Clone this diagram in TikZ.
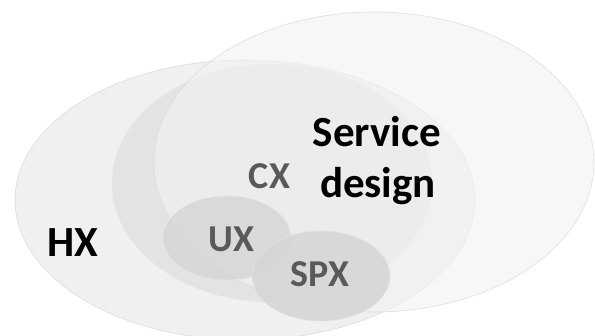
\documentclass[tikz,border=0pt]{standalone}
\usepackage{fontspec}
\setmainfont{Carlito}
\begin{document}
\begin{tikzpicture}[x=1pt,y=-1pt,
  blob/.style={line width=0.6pt},
  dark/.style={font=\bfseries\fontsize{43}{43}\selectfont, text=black, inner sep=0pt, anchor=base},
  grey/.style={font=\bfseries\fontsize{38}{38}\selectfont, text=labelgrey, inner sep=0pt, anchor=base}]
\definecolor{hxfill}{HTML}{F0F0F0}
\definecolor{cxfill}{HTML}{E3E3E3}
\definecolor{sdfill}{HTML}{F3F3F3}
\definecolor{uxfill}{HTML}{D6D6D6}
\definecolor{rim}{HTML}{DCDCDC}
\definecolor{labelgrey}{HTML}{595959}
\useasboundingbox (0,0) rectangle (595,336);
\fill[white] (0,0) rectangle (595,336);
% the nested experience areas
\path[blob, fill=hxfill, draw=rim] (245,200) ellipse [x radius=230, y radius=140];
\path[blob, fill=cxfill, draw=rim!70] (272,183) ellipse [x radius=160, y radius=119];
\path[blob, fill=sdfill, fill opacity=0.6, draw=rim, draw opacity=0.9] (374,162) ellipse [x radius=220, y radius=150];
\path[blob, fill=uxfill, fill opacity=0.85, draw=rim!80] (227,238) ellipse [x radius=64, y radius=42];
\path[blob, fill=uxfill, fill opacity=0.9, draw=rim!80] (321,276) ellipse [x radius=69, y radius=45];
% labels
\node[dark] (hx) at (73,257) {HX};
\node[dark] (sd1) at (377,147) {Service};
\node[dark] (sd2) at (378,198) {design};
\node[grey] (cx) at (269.5,189) {CX};
\node[grey] (ux) at (231.5,252) {UX};
\node[grey] (spx) at (320,287) {SPX};
\end{tikzpicture}
\end{document}
